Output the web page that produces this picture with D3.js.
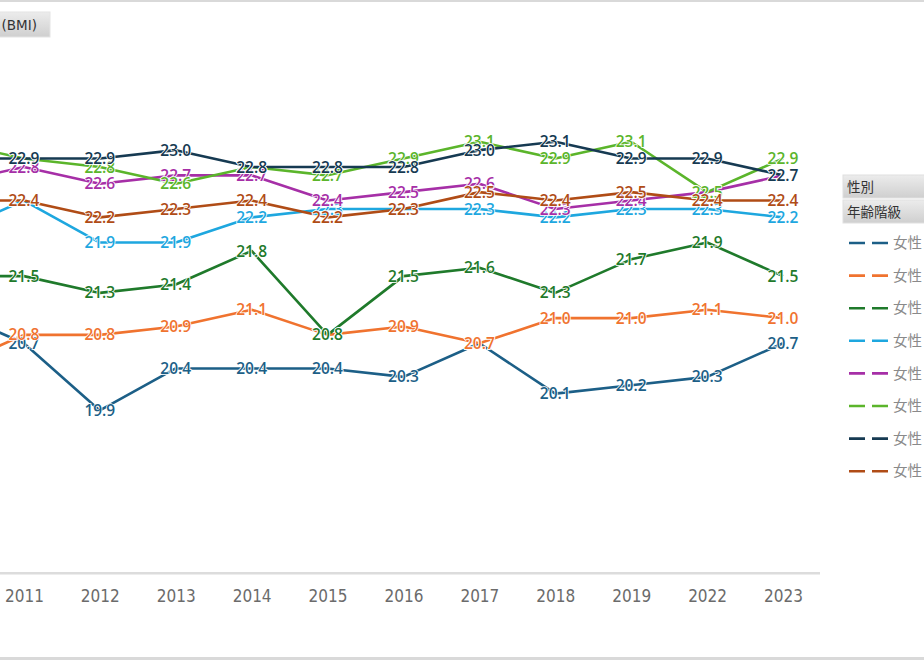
<!DOCTYPE html>
<html><head><meta charset="utf-8">
<script src="https://cdn.jsdelivr.net/npm/d3@7/dist/d3.min.js"></script>
<style>
html,body{margin:0;padding:0;background:#fff;overflow:hidden;}
svg{display:block;}
</style>
</head><body>
<svg id="chart" width="924" height="660"></svg>
<script>
// ---- data ----
const years = ["2010","2011","2012","2013","2014","2015","2016","2017","2018","2019","2022","2023"];
const seriesNames = ["女性","女性","女性","女性","女性","女性","女性","女性"];
const seriesColors = ["#1c5f87","#f0732f","#1f7a2b","#1ea7df","#a62fa7","#5bb52b","#163a52","#b04c16"];
const s1 = [21.1,20.7,19.9,20.4,20.4,20.4,20.3,20.7,20.1,20.2,20.3,20.7];
const s2 = [20.4,20.8,20.8,20.9,21.1,20.8,20.9,20.7,21.0,21.0,21.1,21.0];
const s3 = [21.5,21.5,21.3,21.4,21.8,20.8,21.5,21.6,21.3,21.7,21.9,21.5];
const s4 = [22.0,22.4,21.9,21.9,22.2,22.3,22.3,22.3,22.2,22.3,22.3,22.2];
const s5 = [22.6,22.8,22.6,22.7,22.7,22.4,22.5,22.6,22.3,22.4,22.5,22.7];
const s6 = [23.1,22.9,22.8,22.6,22.8,22.7,22.9,23.1,22.9,23.1,22.5,22.9];
const s7 = [22.9,22.9,22.9,23.0,22.8,22.8,22.8,23.0,23.1,22.9,22.9,22.7];
const s8 = [22.4,22.4,22.2,22.3,22.4,22.2,22.3,22.5,22.4,22.5,22.4,22.4];
const seriesValues = [s1,s2,s3,s4,s5,s6,s7,s8];
const titleText = "(BMI)";
const legendHeaders = ["性別","年齢階級"];

// ---- layout ----
const svg = d3.select("#chart");
const W = 924, H = 660;
const x = d3.scalePoint().domain(years).range([-52, 783]);
const y = d3.scaleLinear().domain([18, 24.3]).range([570, 41]);

const defs = svg.append("defs");
const grad = defs.append("linearGradient").attr("id","hdr").attr("x1",0).attr("y1",0).attr("x2",0).attr("y2",1);
grad.append("stop").attr("offset","0%").attr("stop-color","#ececec");
grad.append("stop").attr("offset","100%").attr("stop-color","#cfcfcf");

// frame lines
svg.append("rect").attr("x",0).attr("y",0).attr("width",W).attr("height",2).attr("fill","#d9d9d9");
svg.append("rect").attr("x",0).attr("y",H-3).attr("width",W).attr("height",3).attr("fill","#d9d9d9");

// title box
svg.append("rect").attr("x",-2).attr("y",12).attr("width",52).attr("height",25).attr("fill","url(#hdr)").attr("stroke","#e4e4e4");
svg.append("text").attr("x",37).attr("y",30).attr("text-anchor","end")
  .attr("font-family","'DejaVu Sans','Liberation Sans',sans-serif").attr("font-size",13.5).attr("fill","#333")
  .text(titleText);

// axis baseline
svg.append("rect").attr("x",0).attr("y",572).attr("width",820).attr("height",2.5).attr("fill","#dcdcdc");

// x axis labels
const axis = d3.axisBottom(x).tickValues(years.filter(d => x(d) >= 0)).tickSize(0).tickPadding(16);
const gx = svg.append("g").attr("transform","translate(0,574)").call(axis);
gx.select(".domain").remove();
gx.selectAll("text").attr("font-family","'Liberation Sans Narrow','DejaVu Sans Condensed',sans-serif")
  .attr("font-size",17).attr("fill","#6b6b6b");

// lines
const line = d3.line().x((d,i) => x(years[i])).y(d => y(d));
const gLines = svg.append("g");
seriesValues.forEach((vals,k) => {
  gLines.append("path").datum(vals).attr("d", line).attr("fill","none")
    .attr("stroke", seriesColors[k]).attr("stroke-width",2.6).attr("stroke-linejoin","round");
});

// labels
const gLab = svg.append("g");
seriesValues.forEach((vals,k) => {
  gLab.selectAll(null).data(vals.map((v,i)=>({v, yr: years[i]})).filter(d => x(d.yr) >= 0))
    .enter().append("text")
    .attr("x", d => x(d.yr)).attr("y", d => y(d.v)).attr("dy","0.36em")
    .attr("text-anchor","middle")
    .attr("font-family","'Open Sans',Roboto,sans-serif").attr("font-weight",600).attr("font-size",15.5)
    .attr("fill", seriesColors[k])
    .attr("stroke","#fff").attr("stroke-width",1.5).attr("paint-order","stroke")
    .text(d => d.v.toFixed(1));
});

// legend
const lgX = 843;
legendHeaders.forEach((h,i) => {
  const yy = i === 0 ? 175 : 200;
  svg.append("rect").attr("x",lgX).attr("y",yy).attr("width",W-lgX+2).attr("height",23)
    .attr("fill","url(#hdr)").attr("stroke","#e0e0e0");
  svg.append("text").attr("x",lgX+4).attr("y",yy+16.5)
    .attr("font-family","'Noto Sans CJK JP',sans-serif").attr("font-size",13.5).attr("fill","#333").text(h);
});
const leg = svg.append("g");
seriesNames.forEach((name,k) => {
  const yy = 243 + k*32.6;
  leg.append("line").attr("x1",849).attr("x2",888).attr("y1",yy).attr("y2",yy)
    .attr("stroke",seriesColors[k]).attr("stroke-width",2.6).attr("stroke-dasharray","16,7");
  leg.append("text").attr("x",893).attr("y",yy).attr("dy","0.36em")
    .attr("font-family","'Noto Sans CJK JP',sans-serif").attr("font-size",14.5).attr("fill","#8a8a8a").text(name);
});
</script>
</body></html>
